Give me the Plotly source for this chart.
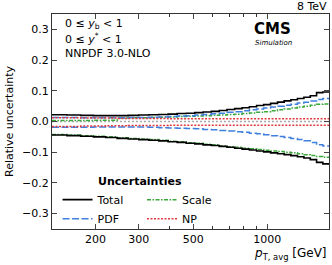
import plotly.graph_objects as go

# pT,avg bin edges (GeV)
edges = [133, 153, 174, 196, 220, 245, 272, 300, 330, 362, 395, 430, 468, 507, 548, 592,
         638, 686, 737, 790, 846, 905, 967, 1032, 1101, 1172, 1248, 1327, 1410, 1497, 1588, 1684, 1784]

total_up = [0.022, 0.021, 0.020, 0.019, 0.019, 0.019, 0.020, 0.021, 0.022, 0.023, 0.024, 0.026,
            0.027, 0.029, 0.031, 0.033, 0.036, 0.039, 0.042, 0.045, 0.048, 0.052, 0.055, 0.059,
            0.063, 0.067, 0.071, 0.075, 0.079, 0.084, 0.094, 0.096]
total_dn = [-0.044, -0.046, -0.048, -0.050, -0.052, -0.055, -0.057, -0.059, -0.061, -0.063,
            -0.066, -0.068, -0.071, -0.073, -0.076, -0.078, -0.081, -0.084, -0.087, -0.090,
            -0.093, -0.096, -0.099, -0.102, -0.105, -0.108, -0.111, -0.115, -0.119, -0.124,
            -0.133, -0.138]
pdf_up = [0.013, 0.013, 0.012, 0.012, 0.012, 0.012, 0.013, 0.013, 0.014, 0.015, 0.016, 0.018,
          0.019, 0.021, 0.023, 0.025, 0.027, 0.030, 0.032, 0.035, 0.038, 0.041, 0.044, 0.047,
          0.050, 0.053, 0.056, 0.060, 0.063, 0.067, 0.072, 0.075]
pdf_dn = [-0.019, -0.019, -0.019, -0.018, -0.018, -0.018, -0.018, -0.018, -0.019, -0.020,
          -0.021, -0.022, -0.023, -0.024, -0.026, -0.027, -0.029, -0.031, -0.033, -0.035,
          -0.038, -0.040, -0.043, -0.046, -0.049, -0.052, -0.055, -0.059, -0.063, -0.068,
          -0.076, -0.080]
scale_up = [0.003, 0.003, 0.003, 0.004, 0.004, 0.011, 0.012, 0.012, 0.013, 0.014, 0.015, 0.016,
            0.017, 0.018, 0.019, 0.020, 0.021, 0.023, 0.024, 0.026, 0.028, 0.030, 0.032, 0.035,
            0.038, 0.041, 0.044, 0.047, 0.050, 0.053, 0.056, 0.057]
scale_dn = [-0.042, -0.044, -0.046, -0.048, -0.050, -0.053, -0.055, -0.057, -0.059, -0.061,
            -0.064, -0.066, -0.069, -0.071, -0.074, -0.076, -0.080, -0.082, -0.084, -0.087,
            -0.089, -0.091, -0.094, -0.096, -0.098, -0.100, -0.102, -0.105, -0.108, -0.111,
            -0.114, -0.116]
np_up = [0.012, 0.012, 0.011, 0.011, 0.011, 0.010, 0.010, 0.010, 0.010, 0.010, 0.009, 0.009,
         0.009, 0.009, 0.009, 0.009, 0.009, 0.009, 0.009, 0.009, 0.009, 0.009, 0.009, 0.009,
         0.009, 0.009, 0.009, 0.009, 0.009, 0.009, 0.009, 0.009]
np_dn = [-0.016, -0.016, -0.015, -0.015, -0.014, -0.014, -0.013, -0.013, -0.013, -0.013, -0.012,
         -0.012, -0.012, -0.012, -0.012, -0.012, -0.012, -0.012, -0.012, -0.012, -0.012, -0.012,
         -0.012, -0.012, -0.012, -0.012, -0.012, -0.012, -0.012, -0.012, -0.012, -0.012]
zero_line = [0.0] * 32

x_ticks = [200, 300, 500, 1000]
x_minor = [400, 600, 700, 800, 900]

FONT = "DejaVu Sans"


def steps(vals):
    return list(vals) + [vals[-1]]


fig = go.Figure()

fig.add_trace(go.Scatter(x=edges, y=steps(zero_line), mode="lines", line_shape="hv",
                         line=dict(color="#aaaaaa", width=1.5, dash="2px,2px"),
                         showlegend=False, hoverinfo="skip"))

series = [
    ("Scale", scale_up, scale_dn, dict(color="#3aa53a", width=1.5, dash="4px,1.5px,1.5px,1.5px"), "legend2", 1),
    ("PDF", pdf_up, pdf_dn, dict(color="#3f7fde", width=1.5, dash="7px,2.5px"), "legend", 2),
    ("NP", np_up, np_dn, dict(color="#e0383c", width=1.5, dash="2px,1.5px"), "legend2", 2),
    ("Total", total_up, total_dn, dict(color="black", width=1.6), "legend", 1),
]
for name, up, dn, ln, leg, rank in series:
    fig.add_trace(go.Scatter(x=edges, y=steps(up), mode="lines", line_shape="hv", line=ln,
                             name=name, legend=leg, legendrank=rank, showlegend=True))
    fig.add_trace(go.Scatter(x=edges, y=steps(dn), mode="lines", line_shape="hv", line=ln,
                             name=name, legend=leg, showlegend=False))

leg_common = dict(orientation="v", xanchor="left", yanchor="top", y=0.204,
                  bgcolor="rgba(0,0,0,0)", font=dict(size=11), itemwidth=30, tracegroupgap=0)

fig.update_layout(
    width=332, height=265,
    margin=dict(l=52, r=3, t=14, b=36, autoexpand=False),
    paper_bgcolor="white", plot_bgcolor="white",
    font=dict(family=FONT, size=11, color="black"),
    legend=dict(x=0.02, **leg_common),
    legend2=dict(x=0.325, **leg_common),
    xaxis=dict(
        type="log", range=[2.12385, 3.25139], automargin=False,
        tickvals=x_ticks, ticktext=[str(v) for v in x_ticks],
        ticks="inside", ticklen=5, tickwidth=1, mirror="allticks",
        showline=True, linecolor="#333333", linewidth=1.2, showgrid=False, zeroline=False,
        minor=dict(tickvals=x_minor, ticks="inside", ticklen=3, tickcolor="#333333"),
        tickfont=dict(size=11),
    ),
    yaxis=dict(
        range=[-0.35, 0.35], dtick=0.1, tick0=0, tickformat=".1f", automargin=False,
        ticks="inside", ticklen=5, tickwidth=1, mirror="allticks",
        showline=True, linecolor="#333333", linewidth=1.2, showgrid=False, zeroline=False,
        title=dict(text="Relative uncertainty", font=dict(size=11), standoff=6),
        tickfont=dict(size=11),
    ),
)

ann = [
    dict(text="0 ≤ <i>y</i><sub>b</sub> < 1", x=0.04, y=0.955, xanchor="left", yanchor="middle"),
    dict(text="0 ≤ <i>y</i><sup>*</sup> < 1", x=0.04, y=0.885, xanchor="left", yanchor="middle"),
    dict(text="NNPDF 3.0-NLO", x=0.04, y=0.815, xanchor="left", yanchor="middle"),
    dict(text="<b>CMS</b>", x=0.795, y=0.93, xanchor="center", yanchor="middle", font=dict(size=15)),
    dict(text="<i>Simulation</i>", x=0.80, y=0.865, xanchor="center", yanchor="middle", font=dict(size=7)),
    dict(text="8 TeV", x=1.0, y=1.0, xanchor="right", yanchor="bottom", yshift=-1),
    dict(text="<b>Uncertainties</b>", x=0.318, y=0.219, xanchor="center", yanchor="middle"),
    dict(text="<i>p</i><sub>T, avg</sub> [GeV]", x=1.0, y=-0.07, xanchor="right", yanchor="top", font=dict(size=12)),
]
for a in ann:
    d = dict(xref="paper", yref="paper", showarrow=False, font=dict(family=FONT, size=11, color="black"))
    font = a.pop("font", None)
    d.update(a)
    if font:
        d["font"] = dict(family=FONT, color="black", **font)
    fig.add_annotation(**d)

fig.write_html("out.html", config={"displayModeBar": False},
               post_script="document.body.style.margin='0';document.body.style.overflow='hidden';")
